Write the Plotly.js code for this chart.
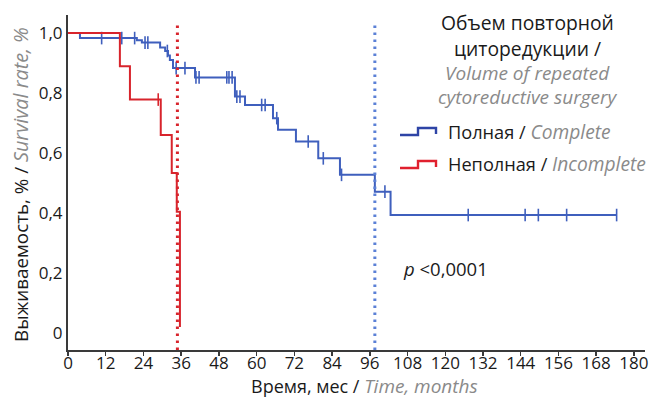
<!DOCTYPE html>
<html>
<head>
<meta charset="utf-8">
<script src="https://cdn.plot.ly/plotly-3.0.1.min.js"></script>
<style>
  html, body { margin: 0; padding: 0; background: #fff; }
  #chart { width: 652px; height: 399px; }
</style>
</head>
<body>
<div id="chart"></div>
<script>
// Kaplan–Meier survival after repeated cytoreduction, by completeness of surgery.

// Complete cytoreduction: event times (months) and survival after each step
const completeTimes    = [0, 3.8, 21.9, 23.5, 29.3, 30.9, 31.8, 32.4, 33.4, 40.4, 53.1, 56.3, 65.2, 66.8, 72.5, 79.6, 86.5, 97.6, 102.6];
const completeSurvival = [1.0, 0.983, 0.976, 0.968, 0.952, 0.94, 0.925, 0.91, 0.883, 0.852, 0.788, 0.76, 0.716, 0.677, 0.638, 0.582, 0.527, 0.471, 0.393];
const completeCensored = [10.7, 17.1, 21.2, 24.5, 25.4, 31.6, 34.4, 37.2, 40.7, 41.7, 50.5, 51.2, 52.2, 53.7, 54.7, 61.6, 62.7, 66.4, 76.4, 81.2, 87.0, 100.8, 127.3, 145.4, 149.6, 158.6, 174.5];
const completeFollowUpEnd = 174.5;
const completeMedian = 97.6;

// Incomplete cytoreduction
const incompleteTimes    = [0, 16.5, 19.7, 29.5, 33.0, 34.6, 35.6];
const incompleteSurvival = [1.0, 0.889, 0.778, 0.66, 0.533, 0.404, 0.02];
const incompleteCensored = [28.7];
const incompleteFollowUpEnd = 35.6;
const incompleteMedian = 34.8;

// Axis ticks
const xTickVals = [0, 12, 24, 36, 48, 60, 72, 84, 96, 108, 120, 132, 144, 156, 168, 180];
const yTickVals = [0, 0.2, 0.4, 0.6, 0.8, 1.0];
const yTickText = ['0', '0,2', '0,4', '0,6', '0,8', '1,0'];

const BLUE = '#3f5fbd';
const RED = '#d8242c';
const GREY = '#8a8a8a';
const FONT = 'Open Sans, Noto Sans, sans-serif';

function survivalAt(t, times, surv) {
  let s = surv[0];
  for (let i = 0; i < times.length; i++) if (times[i] <= t) s = surv[i];
  return s;
}

function stepTrace(times, surv, end, color) {
  const x = times.slice();
  const y = surv.slice();
  if (end > times[times.length - 1]) { x.push(end); y.push(surv[surv.length - 1]); }
  return { x, y, mode: 'lines', line: { shape: 'hv', color, width: 2 }, hoverinfo: 'skip', showlegend: false };
}

function censorTrace(cens, times, surv, color) {
  return {
    x: cens,
    y: cens.map(t => survivalAt(t, times, surv)),
    mode: 'markers',
    marker: { symbol: 'line-ns', size: 9, line: { color, width: 1.6 } },
    hoverinfo: 'skip', showlegend: false
  };
}

const traces = [
  stepTrace(completeTimes, completeSurvival, completeFollowUpEnd, BLUE),
  censorTrace(completeCensored, completeTimes, completeSurvival, BLUE),
  stepTrace(incompleteTimes, incompleteSurvival, incompleteFollowUpEnd, RED),
  censorTrace(incompleteCensored, incompleteTimes, incompleteSurvival, RED)
];

// plot area in pixels
const L = 68, R = 645, T = 15, B = 350;
const px = x => (x - L) / (R - L);
const py = y => (B - y) / (B - T);

function glyph(y0, color) {
  // small step-shaped legend key
  const path = `M ${px(400)} ${py(y0 + 4)} L ${px(418)} ${py(y0 + 4)} L ${px(418)} ${py(y0 - 3)} L ${px(436)} ${py(y0 - 3)} L ${px(436)} ${py(y0 + 3)}`;
  return { type: 'path', xref: 'paper', yref: 'paper', path, line: { color, width: 2.4 } };
}

const shapes = [
  { type: 'line', xref: 'x', yref: 'y', x0: incompleteMedian, x1: incompleteMedian, y0: -0.057, y1: 1.04,
    line: { color: RED, width: 3, dash: '2.5px,4.5px' } },
  { type: 'line', xref: 'x', yref: 'y', x0: completeMedian, x1: completeMedian, y0: -0.057, y1: 1.04,
    line: { color: '#5b80d6', width: 3, dash: '2.5px,4.5px' } },
  glyph(131, '#2e44a6'),
  glyph(164, '#e0202e')
];

function note(text, x, y, anchor, size, color, angle) {
  return { text, xref: 'paper', yref: 'paper', x: px(x), y: py(y), xanchor: anchor, yanchor: 'middle',
    textangle: angle || 0, showarrow: false,
    font: { family: FONT, size: size || 17, color: color || '#1a1a1a' } };
}

const it = (s, size) => `<i><span style="color:${GREY};font-size:${size}px">${s}</span></i>`;

const annotations = [
  // legend heading
  note('Объем повторной', 527, 22, 'center', 19.3),
  note('циторедукции /', 527, 48, 'center', 19.3),
  note('<i>Volume of repeated</i>', 527, 73, 'center', 19, GREY),
  note('<i>cytoreductive surgery</i>', 527, 97, 'center', 19, GREY),
  // legend entries
  note(`Полная / ${it('Complete', 19.2)}`, 446, 131, 'left', 18.2),
  note(`Неполная / ${it('Incomplete', 19.2)}`, 446, 163, 'left', 18.2),
  // log-rank test
  note('<i>p</i> <0,0001', 401, 268, 'left', 18.5),
  // axis titles
  note(`Время, мес / ${it('Time, months', 19)}`, 364, 386, 'center', 18),
  note(`Выживаемость, % / ${it('Survival rate, %', 19.8)}`, 20, 185, 'center', 18.8, '#1a1a1a', -90)
];

const layout = {
  width: 652, height: 399,
  margin: { l: L, r: 652 - R, t: T, b: 399 - B },
  paper_bgcolor: '#fff', plot_bgcolor: '#fff',
  font: { family: FONT, size: 17, color: '#1a1a1a' },
  showlegend: false,
  xaxis: {
    range: [0, (R - L) / 3.144], tickvals: xTickVals, ticktext: xTickVals.map(String),
    showgrid: false, zeroline: false, showline: true, linecolor: '#3a3a3a', linewidth: 2,
    ticks: 'outside', ticklen: 4, tickwidth: 1.5, tickcolor: '#3a3a3a',
    ticklabelstandoff: -7,
    tickfont: { family: FONT, size: 17, color: '#1a1a1a' },
    automargin: false, fixedrange: true
  },
  yaxis: {
    range: [-0.057, 1.06], tickvals: yTickVals, ticktext: yTickText,
    showgrid: false, zeroline: false, showline: true, linecolor: '#3a3a3a', linewidth: 2,
    ticks: '', ticklen: 0,
    tickfont: { family: FONT, size: 17, color: '#1a1a1a' },
    automargin: false, fixedrange: true
  },
  shapes, annotations
};

Plotly.newPlot('chart', traces, layout, { staticPlot: true, displayModeBar: false });
</script>
</body>
</html>
